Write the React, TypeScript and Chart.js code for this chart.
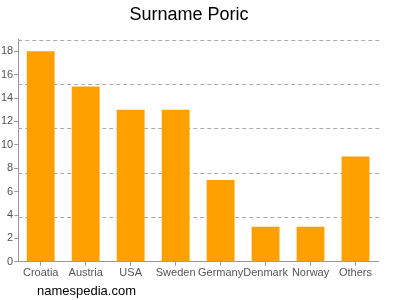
import React, { useEffect, useRef } from "react";
import { Chart, registerables } from "chart.js";

Chart.register(...registerables);

const categories = ["Croatia", "Austria", "USA", "Sweden", "Germany", "Denmark", "Norway", "Others"];
const counts = [18, 15, 13, 13, 7, 3, 3, 9];
const yMax = 19;
const gridStep = 3.8;

const dashedGrid = {
  id: "dashedGrid",
  beforeDatasetsDraw(chart: any) {
    const { ctx, chartArea, scales } = chart;
    const y = scales.y;
    ctx.save();
    ctx.strokeStyle = "#aaaaaa";
    ctx.lineWidth = 1;
    ctx.setLineDash([4, 3]);
    for (let v = gridStep; v <= yMax + 0.001; v += gridStep) {
      const py = Math.round(y.getPixelForValue(v)) + 0.5;
      ctx.beginPath();
      ctx.moveTo(chartArea.left, py);
      ctx.lineTo(chartArea.right + 2, py);
      ctx.stroke();
    }
    ctx.restore();
  },
};

export default function App() {
  const ref = useRef<HTMLCanvasElement>(null);
  useEffect(() => {
    const chart = new Chart(ref.current!, {
      type: "bar",
      data: {
        labels: categories,
        datasets: [
          {
            data: counts,
            backgroundColor: "#ffa000",
            borderWidth: 0,
            barPercentage: 0.62,
            categoryPercentage: 1,
          },
        ],
      },
      options: {
        animation: false,
        responsive: false,
        layout: { padding: { left: 0, right: 22, top: 0, bottom: 19 } },
        plugins: {
          legend: { display: false },
          tooltip: { enabled: false },
          title: {
            display: true,
            text: "Surname Poric",
            color: "#000",
            font: { family: "Liberation Sans, Arial", size: 18, weight: "normal" },
            padding: { top: 4, bottom: 14 },
          },
        },
        scales: {
          x: {
            grid: { display: true, drawOnChartArea: false, offset: false, tickLength: 4, color: "#999" },
            border: { color: "#999" },
            ticks: { color: "#555", font: { family: "Liberation Sans, Arial", size: 11 }, padding: 1, maxRotation: 0, autoSkip: false },
          },
          y: {
            min: 0,
            max: yMax,
            afterBuildTicks: (axis: any) => {
              axis.ticks = [];
              for (let v = 0; v <= 18; v += 2) axis.ticks.push({ value: v });
            },
            grid: { display: true, drawOnChartArea: false, tickLength: 4, color: "#999" },
            border: { color: "#999" },
            ticks: { color: "#555", font: { family: "Liberation Sans, Arial", size: 11 }, padding: 1 },
          },
        },
      },
      plugins: [dashedGrid],
    });
    return () => chart.destroy();
  }, []);
  return (
    <div style={{ position: "fixed", left: 0, top: 0, width: 400, height: 300, background: "#fff" }}>
      <canvas ref={ref} width={400} height={300} />
      <div
        style={{
          position: "absolute",
          left: 37,
          top: 283,
          fontFamily: "Liberation Sans, Arial",
          fontSize: 13,
          color: "#000",
        }}
      >
        namespedia.com
      </div>
    </div>
  );
}
